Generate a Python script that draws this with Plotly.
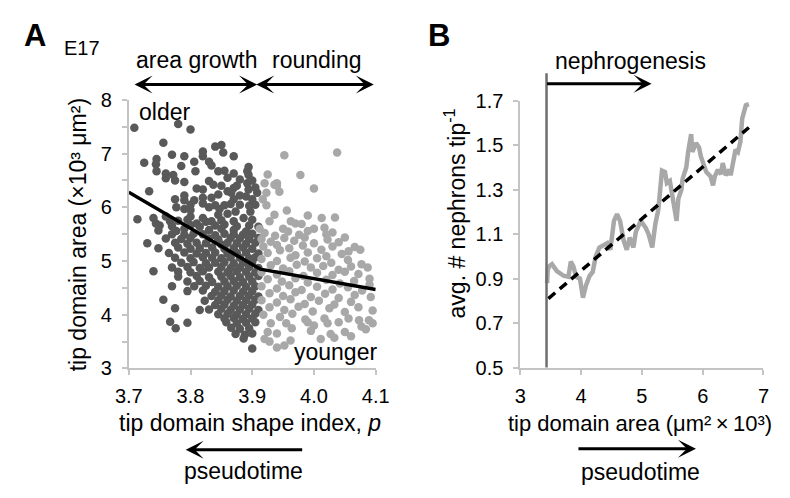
import plotly.graph_objects as go

W, H = 790, 498

# ---------------- Panel A data ----------------
dark_pts = [
    (3.709,7.48),(3.78,7.55),(3.80,7.45),(3.756,7.2),(3.725,6.83),(3.745,6.9),(3.744,6.8),(3.77,6.98),
    (3.79,6.95),(3.785,6.77),(3.82,7.04),(3.82,6.95),(3.84,7.13),(3.85,7.16),(3.853,7.02),(3.87,6.95),
    (3.806,6.85),(3.808,6.67),(3.83,6.85),(3.834,6.78),(3.745,6.67),(3.76,6.54),(3.76,6.63),(3.772,6.6),
    (3.775,6.5),(3.79,6.47),(3.845,6.67),(3.855,6.68),(3.87,6.63),(3.892,6.67),(3.894,6.6),(3.83,6.49),
    (3.837,6.42),(3.85,6.4),(3.86,6.3),(3.892,6.45),(3.894,6.33),(3.733,6.3),(3.775,6.15),(3.79,6.13),
    (3.806,6.13),(3.82,6.18),(3.834,6.18),(3.866,6.27),(3.87,6.15),(3.777,6.0),(3.79,5.97),(3.80,5.95),
    (3.83,6.0),(3.847,5.97),(3.855,6.04),(3.714,5.78),(3.74,5.8),(3.744,5.7),(3.76,5.83),(3.767,5.74),
    (3.80,5.83),(3.81,5.7),(3.82,5.8),(3.834,5.74),(3.845,5.86),(3.86,5.88),(3.873,5.92),(3.886,5.8),
    (3.897,5.92),(3.894,6.75),(3.90,6.5),(3.908,6.27),(3.90,6.15),(3.905,6.05),(3.88,6.05),(3.89,6.2),
    (3.875,6.4),(3.86,6.55),(3.88,6.52),
    (3.80,6.05),(3.82,6.07),(3.84,6.04),(3.865,6.06),(3.895,6.03),
    (3.78,5.75),(3.795,5.77),(3.825,5.73),(3.85,5.76),(3.87,5.74),(3.90,5.77),
    (3.75,5.66),(3.77,5.65),(3.80,5.67),(3.815,5.64),(3.84,5.66),(3.855,5.68),(3.875,5.65),(3.895,5.66),(3.91,5.64),
    (3.81,6.35),(3.82,6.33),(3.87,6.36),(3.905,6.37),(3.79,6.22),(3.845,6.24),(3.88,6.22),
    (3.748,5.57),(3.777,5.56),(3.79,5.6),(3.83,5.58),(3.85,5.6),(3.87,5.58),(3.89,5.55),
    (3.77,5.50),(3.79,5.49),(3.805,5.51),(3.82,5.50),(3.84,5.48),(3.855,5.51),(3.87,5.50),(3.885,5.49),(3.90,5.51),
    (3.76,5.42),(3.785,5.41),(3.80,5.43),(3.83,5.42),(3.845,5.40),(3.865,5.43),(3.88,5.42),(3.895,5.41),(3.91,5.43),
    (3.73,5.33),(3.775,5.34),(3.795,5.32),(3.81,5.34),(3.825,5.33),(3.85,5.31),(3.86,5.34),(3.875,5.33),(3.89,5.32),(3.905,5.34),
    (3.748,5.24),(3.78,5.25),(3.80,5.23),(3.815,5.24),(3.835,5.25),(3.855,5.23),(3.87,5.24),(3.885,5.25),(3.90,5.23),
    (3.765,5.15),(3.79,5.16),(3.81,5.14),(3.825,5.15),(3.84,5.16),(3.86,5.14),(3.875,5.15),(3.89,5.16),(3.91,5.14),
    (3.775,5.06),(3.80,5.05),(3.82,5.07),(3.835,5.06),(3.85,5.05),(3.865,5.07),(3.88,5.06),(3.895,5.05),(3.905,5.07),
    (3.785,4.97),(3.805,4.98),(3.825,4.96),(3.84,4.97),(3.855,4.98),(3.87,4.96),(3.885,4.97),(3.90,4.98),
    (3.77,4.88),(3.795,4.89),(3.815,4.87),(3.83,4.88),(3.85,4.89),(3.865,4.87),(3.88,4.88),(3.895,4.89),(3.91,4.87),
    (3.74,4.81),(3.78,4.80),(3.80,4.79),(3.82,4.81),(3.845,4.80),(3.86,4.79),(3.875,4.81),(3.89,4.80),(3.905,4.79),
    (3.78,4.71),(3.81,4.72),(3.83,4.70),(3.85,4.71),(3.865,4.72),(3.88,4.70),(3.895,4.71),(3.91,4.72),
    (3.795,4.62),(3.815,4.63),(3.835,4.61),(3.855,4.62),(3.87,4.63),(3.885,4.61),(3.90,4.62),
    (3.77,4.53),(3.806,4.53),(3.825,4.54),(3.845,4.52),(3.86,4.53),(3.875,4.54),(3.89,4.52),(3.905,4.53),
    (3.795,4.44),(3.82,4.45),(3.84,4.43),(3.855,4.44),(3.87,4.45),(3.885,4.43),(3.90,4.44),
    (3.834,4.35),(3.85,4.36),(3.865,4.34),(3.88,4.35),(3.895,4.36),(3.91,4.34),
    (3.756,4.28),(3.823,4.26),(3.845,4.27),(3.86,4.28),(3.875,4.26),(3.89,4.27),(3.905,4.28),
    (3.84,4.18),(3.855,4.19),(3.87,4.17),(3.885,4.18),(3.90,4.19),
    (3.775,4.12),(3.815,4.09),(3.83,4.10),(3.85,4.11),(3.865,4.09),(3.88,4.10),(3.895,4.11),(3.91,4.09),
    (3.845,4.01),(3.86,4.02),(3.875,4.00),(3.89,4.01),(3.905,4.02),
    (3.855,3.93),(3.87,3.94),(3.885,3.92),(3.90,3.93),
    (3.767,3.87),(3.795,3.85),(3.858,3.86),(3.875,3.84),(3.89,3.85),(3.905,3.86),
    (3.776,3.75),(3.866,3.76),(3.88,3.74),(3.895,3.75),
    (3.873,3.64),(3.888,3.63),(3.90,3.65),(3.886,3.56),(3.90,3.37),
]
light_pts = [
    (3.952,6.97),(4.0375,7.02),(3.925,6.61),(3.978,6.6),(4.0,6.35),(3.94,6.45),(3.944,6.29),(3.936,6.42),
    (3.92,6.45),(3.923,6.27),(3.917,6.15),(3.923,6.04),(3.956,5.94),(3.936,5.86),(3.99,5.85),(4.0125,5.8),
    (4.034,5.81),(3.928,5.74),(3.912,5.6),(3.9625,5.74),(3.97,5.7),(3.98,5.69),(4.0,5.6),(4.017,5.62),
    (4.02,5.5),(3.95,5.6),(3.94,6.4),(4.05,5.44),(4.066,5.26),(4.077,4.94),(4.087,4.88),(4.072,4.76),(4.09,4.67),
    (3.92,5.52),(3.937,5.47),(3.958,5.55),(3.976,5.49),(3.99,5.56),(4.03,5.53),
    (3.915,5.41),(3.93,5.36),(3.952,5.43),(3.968,5.38),(3.985,5.44),(4.00,5.33),(4.022,5.40),(4.04,5.35),
    (3.918,5.27),(3.94,5.30),(3.96,5.24),(3.982,5.29),(4.012,5.21),(4.03,5.27),(4.056,5.18),
    (3.925,5.15),(3.945,5.20),(3.97,5.11),(3.99,5.16),(4.02,5.09),(4.045,5.13),(4.075,5.21),
    (3.915,5.04),(3.94,5.00),(3.962,5.06),(3.985,4.99),(4.005,5.05),(4.028,4.97),(4.055,5.02),
    (3.93,4.92),(3.95,4.86),(3.972,4.93),(3.995,4.88),(4.015,4.91),(4.04,4.84),(4.06,4.90),
    (3.915,4.79),(3.94,4.75),(3.96,4.81),(3.983,4.72),(4.005,4.78),(4.03,4.74),(4.05,4.80),
    (3.925,4.66),(3.948,4.62),(3.97,4.68),(3.99,4.60),(4.02,4.65),(4.042,4.58),(4.065,4.63),(4.09,4.56),
    (3.915,4.53),(3.94,4.49),(3.96,4.55),(3.98,4.46),(4.005,4.52),(4.03,4.47),(4.055,4.51),(4.078,4.45),
    (3.928,4.40),(3.95,4.35),(3.97,4.42),(3.995,4.33),(4.018,4.39),(4.04,4.31),(4.066,4.37),(4.092,4.33),
    (3.915,4.27),(3.94,4.23),(3.962,4.29),(3.985,4.20),(4.008,4.26),(4.033,4.19),(4.06,4.24),
    (3.928,4.14),(3.952,4.09),(3.975,4.15),(3.998,4.06),(4.025,4.12),(4.05,4.05),(4.072,4.14),(4.095,4.08),
    (3.918,4.00),(3.945,3.96),(3.965,4.02),(3.986,3.91),(4.017,3.93),(4.056,3.93),(4.073,3.90),(4.089,3.90),
    (3.93,3.84),(3.955,3.84),(3.99,3.86),(4.022,3.84),(4.04,3.86),(4.095,3.84),
    (3.964,3.75),(3.995,3.70),(4.077,3.78),(4.084,3.73),
    (3.925,3.68),(3.94,3.65),(4.00,3.80),(4.05,3.68),
    (3.92,3.55),(3.962,3.52),(4.011,3.55),(4.027,3.64),(4.06,3.60),(4.033,3.57),
    (3.928,3.50),(3.94,3.39),(3.952,3.43),
]
dark_x = [p[0] for p in dark_pts]
dark_y = [p[1] for p in dark_pts]
light_x = [p[0] for p in light_pts]
light_y = [p[1] for p in light_pts]

fit_a_x = [3.70, 3.913, 4.10]
fit_a_y = [6.28, 4.85, 4.47]

# ---------------- Panel B data ----------------
neph_x = [3.44, 3.45, 3.476, 3.52, 3.60, 3.71, 3.79, 3.83, 3.87, 3.92, 3.98, 4.03, 4.08, 4.14, 4.19, 4.24,
          4.30, 4.38, 4.43, 4.48, 4.54, 4.59, 4.64, 4.70, 4.75, 4.80, 4.86, 4.90, 4.98, 5.06, 5.11, 5.17,
          5.22, 5.27, 5.30, 5.33, 5.38, 5.41, 5.46, 5.51, 5.57, 5.60, 5.65, 5.67, 5.73, 5.76, 5.81, 5.83,
          5.89, 5.94, 5.97, 6.02, 6.06, 6.13, 6.17, 6.20, 6.25, 6.30, 6.33, 6.38, 6.44, 6.46, 6.49, 6.54,
          6.58, 6.62, 6.65, 6.68, 6.71, 6.76]
neph_y = [0.88, 0.94, 0.956, 0.965, 0.934, 0.913, 0.908, 0.977, 0.956, 0.908, 0.90, 0.814, 0.87, 0.913, 0.93, 1.00,
          1.04, 1.05, 1.06, 1.03, 1.16, 1.19, 1.16, 1.07, 1.03, 1.085, 1.04, 1.11, 1.16, 1.13, 1.10, 1.04,
          1.145, 1.21, 1.30, 1.386, 1.38, 1.33, 1.34, 1.27, 1.16, 1.26, 1.30, 1.35, 1.40, 1.47, 1.55, 1.47,
          1.51, 1.49, 1.45, 1.41, 1.38, 1.36, 1.32, 1.36, 1.39, 1.37, 1.42, 1.365, 1.39, 1.365, 1.42, 1.48,
          1.47, 1.515, 1.62, 1.66, 1.68, 1.685]
trend_x = [3.46, 6.76]
trend_y = [0.81, 1.58]
onset_x = 3.43

FONT = "Liberation Sans, Arial, Helvetica, sans-serif"
AX_GRAY = "#c4c4c4"


def px(x):
    return x / W


def py(y):
    return 1 - y / H


fig = go.Figure()
fig.add_trace(go.Scatter(x=dark_x, y=dark_y, mode="markers",
                         marker=dict(size=8.5, color="#595959"), xaxis="x", yaxis="y", cliponaxis=False))
fig.add_trace(go.Scatter(x=light_x, y=light_y, mode="markers",
                         marker=dict(size=8.5, color="#a8a8a8"), xaxis="x", yaxis="y", cliponaxis=False))
fig.add_trace(go.Scatter(x=fit_a_x, y=fit_a_y, mode="lines",
                         line=dict(color="black", width=3.5), xaxis="x", yaxis="y"))
fig.add_trace(go.Scatter(x=neph_x, y=neph_y, mode="lines",
                         line=dict(color="#a8a8a8", width=4.5), xaxis="x2", yaxis="y2"))
fig.add_trace(go.Scatter(x=trend_x, y=trend_y, mode="lines",
                         line=dict(color="black", width=3.5, dash="9px,6px"), xaxis="x2", yaxis="y2"))

axis_common = dict(showline=True, linecolor=AX_GRAY, linewidth=2, ticks="outside", ticklen=5,
                   tickcolor=AX_GRAY, tickwidth=2, showgrid=False, zeroline=False,
                   tickfont=dict(family=FONT, size=20, color="black"), fixedrange=True)

fig.update_layout(
    width=W, height=H, margin=dict(l=0, r=0, t=0, b=0),
    paper_bgcolor="white", plot_bgcolor="white", showlegend=False,
    font=dict(family=FONT, color="black"),
    xaxis=dict(domain=[px(119), px(375)], range=[3.7, 4.1], tickvals=[3.7, 3.8, 3.9, 4.0, 4.1],
               ticktext=["3.7", "3.8", "3.9", "4.0", "4.1"], anchor="y", ticklabelstandoff=4, **axis_common),
    yaxis=dict(domain=[py(374), py(93)], range=[3, 8], tickvals=[3, 4, 5, 6, 7, 8], anchor="x",
               minor=dict(dtick=0.5, ticks="outside", ticklen=5, tickcolor=AX_GRAY, tickwidth=2),
               ticklabelstandoff=6, **axis_common),
    xaxis2=dict(domain=[px(525), px(777)], range=[3, 7], tickvals=[3, 4, 5, 6, 7], anchor="y2",
                ticklabelstandoff=4, **axis_common),
    yaxis2=dict(domain=[py(373), py(94)], range=[0.5, 1.7], tickvals=[0.5, 0.7, 0.9, 1.1, 1.3, 1.5, 1.7],
                ticktext=["0.5", "0.7", "0.9", "1.1", "1.3", "1.5", "1.7"], anchor="x2",
                ticklabelstandoff=6, **axis_common),
)

fig.add_shape(type="line", xref="x2", yref="paper", x0=onset_x, x1=onset_x, y0=py(373), y1=py(65),
              line=dict(color="#6e6e6e", width=2.5))

TS = 23


def text(t, x, y, size=TS, xanchor="center", angle=0, bold=False):
    if bold:
        t = "<b>" + t + "</b>"
    fig.add_annotation(text=t, x=px(x), y=py(y), xref="paper", yref="paper", showarrow=False,
                       xanchor=xanchor, yanchor="middle", textangle=angle,
                       font=dict(family=FONT, size=size, color="black"))


def arrow(x_head, x_tail, y, both=False):
    fig.add_annotation(text="", x=px(x_head), y=py(y), xref="paper", yref="paper",
                       ax=x_tail - x_head, ay=0, axref="pixel", ayref="pixel", showarrow=True,
                       arrowhead=3, arrowsize=1, arrowwidth=3, arrowcolor="black",
                       arrowside="end+start" if both else "end", startarrowhead=3, startarrowsize=1)


# Panel A texts
text("A", 22, 26, size=31, bold=True)
text("E17", 71, 39, size=20)
text("area growth", 189, 51)
text("rounding", 314, 51)
arrow(252, 128, 77, both=True)
arrow(373, 254, 77, both=True)
text("older", 128, 106, xanchor="left")
text("younger", 378, 357, xanchor="right")
text("tip domain area (×10³ μm²)", 66, 234, angle=-90)
text("tip domain shape index, <i>p</i>", 245, 431)
arrow(178, 296, 459)
text("pseudotime", 238, 481)

# Panel B texts
text("B", 441, 26, size=31, bold=True)
text("nephrogenesis", 639, 52)
arrow(661, 555, 76)
text("avg. # nephrons tip<sup>-1</sup>", 457, 212, angle=-90)
text("tip domain area (μm²\u2009×\u200910³)", 788, 432, size=22, xanchor="right")
arrow(707, 588, 458)
text("pseudotime", 650, 482)

fig.write_html("out.html", config={"displayModeBar": False},
               post_script="document.body.style.margin='0';document.body.style.overflow='hidden';")
